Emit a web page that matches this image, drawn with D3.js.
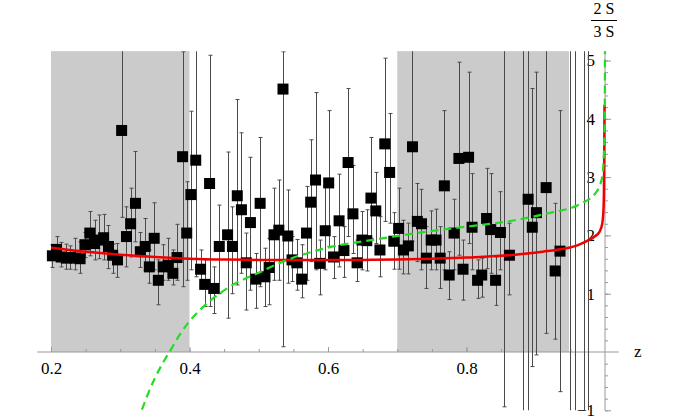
<!DOCTYPE html>
<html><head><meta charset="utf-8">
<script src="https://cdn.jsdelivr.net/npm/d3@7"></script>
<style>
html,body{margin:0;padding:0;background:#fff;}
svg{display:block;font-family:"Liberation Serif","DejaVu Serif",serif;}
</style></head>
<body>
<svg id="chart" width="681" height="420"></svg>
<script>
// ---- data ----
const zVals = [0.202,0.208,0.215,0.222,0.228,0.235,0.242,0.249,0.256,0.263,0.270,0.276,0.283,0.289,0.296,0.302,0.309,0.315,0.322,0.329,0.336,0.342,0.349,0.355,0.362,0.369,0.376,0.382,0.390,0.396,0.402,0.409,0.416,0.422,0.429,0.435,0.443,0.455,0.462,0.469,0.475,0.482,0.488,0.496,0.502,0.509,0.515,0.522,0.529,0.535,0.542,0.548,0.555,0.562,0.569,0.575,0.582,0.588,0.596,0.601,0.608,0.616,0.623,0.629,0.636,0.642,0.649,0.656,0.662,0.669,0.675,0.682,0.689,0.695,0.702,0.709,0.716,0.722,0.729,0.735,0.742,0.749,0.756,0.762,0.768,0.775,0.782,0.789,0.795,0.803,0.808,0.816,0.822,0.829,0.835,0.842,0.849,0.854,0.862,0.882,0.889,0.895,0.901,0.915,0.928,0.935,0.949,0.956,0.969,0.975];
const values = [1.65,1.76,1.63,1.61,1.62,1.61,1.60,1.84,2.04,1.86,1.92,1.96,1.81,1.66,1.58,3.80,1.98,2.20,2.55,1.72,1.81,1.46,1.95,1.23,1.46,1.49,1.35,1.62,3.35,2.04,2.70,3.29,1.42,1.16,2.89,1.09,1.81,2.01,1.81,2.68,2.44,1.53,2.22,1.25,2.55,1.29,1.45,2.01,2.09,4.51,1.99,1.58,1.53,1.25,2.04,2.57,2.95,1.52,2.08,2.90,1.63,2.25,1.74,3.25,2.37,1.53,1.92,1.91,2.64,2.42,1.75,3.57,3.08,1.90,2.12,1.75,1.82,3.52,2.24,2.20,1.61,1.92,1.92,1.61,2.85,1.32,2.04,3.32,1.42,3.34,2.14,1.23,1.32,2.29,2.10,1.23,2.05,6.0,1.66,6.0,2.62,2.14,2.39,2.82,1.39,1.73,6.0,6.0,6.0,6.0];
const errLo = [1.45,1.55,1.46,1.42,1.42,1.41,1.35,1.62,1.65,1.58,1.60,1.58,1.43,1.35,1.28,2.31,1.46,1.63,1.89,1.45,1.41,1.18,1.41,0.81,1.23,1.23,1.15,1.23,1.12,1.23,1.41,1.29,1.12,0.78,0.78,0.66,1.00,0.58,1.00,1.15,1.35,0.72,1.06,0.75,1.12,0.78,0.81,1.23,1.23,0.09,1.18,1.21,1.06,0.93,1.23,1.55,1.41,0.98,1.41,1.81,1.26,1.46,1.28,1.98,1.69,1.21,1.41,1.39,1.95,1.86,1.29,2.24,2.21,1.42,1.42,1.34,1.34,1.90,1.55,1.41,1.09,1.41,1.41,1.09,1.41,0.90,1.41,1.66,0.89,1.86,1.41,0.92,0.94,1.43,1.35,0.80,1.41,-0.94,0.98,-3,-3,-0.25,-0.05,0.32,0.22,-0.68,-3,-3,-3,-3];
const errHi = [1.84,1.98,1.88,1.85,1.82,1.95,1.89,2.05,2.41,2.26,2.35,2.36,2.17,1.85,1.86,5.5,2.49,2.81,3.44,2.05,2.29,1.75,2.56,1.58,1.84,1.95,1.75,2.19,5.15,2.92,4.13,5.5,1.75,1.58,5.09,1.46,2.52,3.43,2.49,4.33,3.76,2.04,3.34,1.69,3.68,1.78,1.95,2.81,2.95,5.15,2.78,1.98,1.93,1.84,2.84,3.64,4.45,1.92,2.84,4.14,1.98,3.05,2.15,4.52,3.20,1.92,2.41,2.44,3.68,3.08,2.32,5.04,4.09,2.39,2.81,2.26,2.21,5.5,2.89,2.79,2.15,2.42,2.45,2.15,4.14,1.72,2.62,4.97,1.92,4.80,3.06,1.58,1.61,3.15,3.06,1.63,2.75,12,2.21,12,12,4.52,4.80,6,2.55,4.14,12,12,12,12];

const redZ = [0.2,0.25,0.3,0.35,0.4,0.45,0.5,0.55,0.6,0.65,0.7,0.75,0.8,0.85,0.88,0.91,0.94,0.96,0.975,0.985,0.992,0.996,0.998,0.9988,0.9993];
const redV = [1.79,1.72,1.67,1.63,1.60,1.585,1.58,1.58,1.58,1.58,1.585,1.60,1.62,1.65,1.68,1.72,1.77,1.83,1.91,1.98,2.06,2.2,2.5,3.2,4.24];

const greenZ = [0.325,0.331,0.34,0.35,0.36,0.372,0.385,0.398,0.415,0.43,0.458,0.5,0.535,0.6,0.668,0.74,0.8,0.87,0.918,0.966,0.986,0.996,0.999,0.9998,1.0];
const greenV = [-1.2,-1.0,-0.72,-0.45,-0.22,0.02,0.28,0.50,0.72,0.88,1.12,1.36,1.55,1.79,1.93,2.06,2.15,2.26,2.38,2.55,2.72,3.0,3.64,4.5,5.3];

const bandStart = [0.2, 0.7];
const bandEnd = [0.4, 0.948];

const xMajor = [0.2, 0.4, 0.6, 0.8];
const yMajor = [-1, 1, 2, 3, 4, 5];

// ---- scales ----
const serif = '"Liberation Serif","DejaVu Serif",serif';
const svg = d3.select("#chart");
const x = d3.scaleLinear().domain([0.2, 1.0]).range([51, 605]);
const y = d3.scaleLinear().domain([0, 5]).range([352, 60.5]);
const xMin = 0.18, xMax = 1.02, yMin = -1, yMax = 5.16;

svg.append("defs").append("clipPath").attr("id","clip")
  .append("rect").attr("x", x(xMin)).attr("y", y(yMax))
  .attr("width", x(xMax)-x(xMin)).attr("height", y(yMin)-y(yMax));

// bands
svg.append("g").selectAll("rect").data(bandStart).join("rect")
  .attr("x", (d)=>x(d)).attr("y", y(yMax))
  .attr("width", (d,i)=>x(bandEnd[i])-x(d))
  .attr("height", y(0)-y(yMax))
  .attr("fill", "#cbcbcb");

// axes
const axisColor = "#999";
svg.append("line").attr("x1", x(xMin)).attr("x2", x(xMax)).attr("y1", y(0)).attr("y2", y(0))
  .attr("stroke", axisColor).attr("stroke-width", 1);
svg.append("line").attr("x1", x(1)).attr("x2", x(1)).attr("y1", y(yMin)).attr("y2", y(yMax))
  .attr("stroke", axisColor).attr("stroke-width", 1);

const xMinorTicks = d3.range(0.2, 1.0001, 0.05).map(v=>+v.toFixed(2)).filter(v=>v<0.999);
const gxMinor = svg.append("g").attr("transform", `translate(0,${y(0)})`)
  .call(d3.axisBottom(x).tickValues(xMinorTicks).tickSize(-3).tickFormat(""));
const gx = svg.append("g").attr("transform", `translate(0,${y(0)})`)
  .call(d3.axisBottom(x).tickValues(xMajor).tickSize(-5).tickPadding(10).tickFormat(d3.format(".1f")));
[gx, gxMinor].forEach(g=>{ g.select(".domain").remove(); g.selectAll("line").attr("stroke", axisColor); });
gx.selectAll("text").attr("font-size", 17).attr("fill", "#000").attr("font-family", serif);

const yMinorTicks = d3.range(-1, 5.1, 0.2).map(v=>+v.toFixed(1)).filter(v=>Math.abs(v)>1e-6);
const gyMinor = svg.append("g").attr("transform", `translate(${x(1)},0)`)
  .call(d3.axisLeft(y).tickValues(yMinorTicks).tickSize(-3).tickFormat(""));
const gy = svg.append("g").attr("transform", `translate(${x(1)},0)`)
  .call(d3.axisLeft(y).tickValues(yMajor).tickSize(-6).tickPadding(10).tickFormat(d3.format("d")));
[gy, gyMinor].forEach(g=>{ g.select(".domain").remove(); g.selectAll("line").attr("stroke", axisColor); });
gy.selectAll("text").attr("font-size", 17).attr("fill", "#000").attr("font-family", serif);

// data layer
const plot = svg.append("g").attr("clip-path", "url(#clip)");
const pts = zVals.map((z,i)=>({z, v: values[i], lo: errLo[i], hi: errHi[i]}));
const cap = 2;
const eb = plot.append("g").attr("stroke", "#4a4a4a").attr("stroke-width", 1).attr("fill","none");
pts.forEach(p=>{
  const cx = Math.round(x(p.z)) + 0.5;
  eb.append("line").attr("x1", cx).attr("x2", cx).attr("y1", y(p.lo)).attr("y2", y(p.hi));
  eb.append("line").attr("x1", cx-cap).attr("x2", cx+cap).attr("y1", y(p.lo)).attr("y2", y(p.lo));
  eb.append("line").attr("x1", cx-cap).attr("x2", cx+cap).attr("y1", y(p.hi)).attr("y2", y(p.hi));
});
const sq = 11;
plot.append("g").selectAll("rect").data(pts).join("rect")
  .attr("x", d=>x(d.z)-sq/2).attr("y", d=>y(d.v)-sq/2)
  .attr("width", sq).attr("height", sq).attr("fill", "#000");

const line = d3.line().x(d=>x(d[0])).y(d=>y(d[1])).curve(d3.curveMonotoneX);
plot.append("path").datum(redZ.map((z,i)=>[z, redV[i]])).attr("d", line)
  .attr("fill","none").attr("stroke","#f00000").attr("stroke-width", 2.5);
plot.append("path").datum(greenZ.map((z,i)=>[z, greenV[i]])).attr("d", line)
  .attr("fill","none").attr("stroke","#22dd22").attr("stroke-width", 2.2)
  .attr("stroke-dasharray", "8,5");

// axis titles
svg.append("text").attr("x", x(1)+29).attr("y", y(0)+5).text("z")
  .attr("font-size", 17).attr("font-family", serif);
svg.append("text").attr("x", x(1)-1).attr("y", 14).attr("text-anchor","middle").text("2 S")
  .attr("font-size", 16).attr("font-family", serif);
svg.append("line").attr("x1", x(1)-14).attr("x2", x(1)+12).attr("y1", 20.5).attr("y2", 20.5)
  .attr("stroke", "#000").attr("stroke-width", 1);
svg.append("text").attr("x", x(1)-1).attr("y", 36.5).attr("text-anchor","middle").text("3 S")
  .attr("font-size", 16).attr("font-family", serif);
</script>
</body></html>
